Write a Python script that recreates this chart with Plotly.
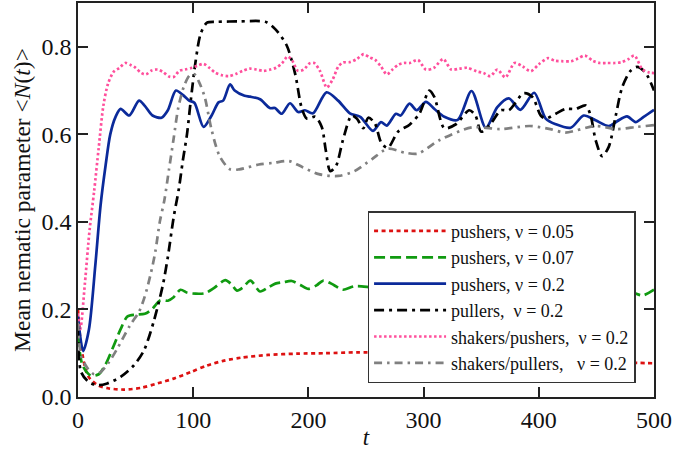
import plotly.graph_objects as go

# ---------------- data ----------------
t_red = [0, 2.7, 8.5, 17, 26, 40, 55, 69, 83, 98, 112, 127, 142, 165, 190, 215, 243, 300, 350, 400, 450, 485, 500]
n_red = [0.20, 0.117, 0.049, 0.027, 0.02, 0.017, 0.021, 0.031, 0.042, 0.057, 0.072, 0.083, 0.09, 0.096, 0.099, 0.10, 0.102, 0.10, 0.095, 0.088, 0.082, 0.078, 0.077]

t_green = [0, 4, 11, 18, 24, 31, 37, 43, 50, 58, 64, 71.5, 78, 83, 89, 95, 102, 110, 117.6, 127.8, 133, 138, 143, 149.7, 158, 165, 171.3, 178, 185.6, 193, 200, 207, 213, 222, 230, 240, 260, 290, 330, 370, 410, 450, 480, 490, 500]
n_green = [0.14, 0.072, 0.049, 0.052, 0.075, 0.117, 0.155, 0.184, 0.188, 0.19, 0.2, 0.221, 0.22, 0.228, 0.245, 0.238, 0.236, 0.237, 0.248, 0.267, 0.258, 0.243, 0.25, 0.266, 0.241, 0.25, 0.259, 0.262, 0.265, 0.256, 0.247, 0.255, 0.266, 0.256, 0.245, 0.253, 0.25, 0.255, 0.25, 0.252, 0.25, 0.245, 0.24, 0.232, 0.245]

t_blue = [0, 4.5, 9.5, 15, 19.6, 24, 28, 32.6, 37, 44.5, 53, 58, 64.7, 72.5, 78, 85, 91, 96.5, 101, 109, 116, 122, 126, 132, 136, 144.6, 149.4, 158, 166.5, 171, 176.8, 184, 191.2, 197, 204, 215.7, 225.8, 236, 245, 256, 263, 268, 276, 280, 287.8, 294, 302, 309.4, 318, 329.6, 341.6, 354, 364, 374, 384, 396, 406, 414.7, 427.7, 439, 449.3, 460.8, 468, 476.6, 484, 491, 500]
n_blue = [0.185, 0.105, 0.154, 0.30, 0.438, 0.53, 0.60, 0.64, 0.658, 0.643, 0.677, 0.665, 0.643, 0.638, 0.655, 0.70, 0.69, 0.677, 0.672, 0.617, 0.643, 0.673, 0.677, 0.714, 0.70, 0.688, 0.686, 0.68, 0.66, 0.66, 0.647, 0.671, 0.651, 0.655, 0.648, 0.696, 0.677, 0.648, 0.64, 0.608, 0.628, 0.62, 0.647, 0.643, 0.67, 0.655, 0.674, 0.658, 0.64, 0.633, 0.699, 0.615, 0.662, 0.682, 0.656, 0.695, 0.636, 0.623, 0.615, 0.643, 0.632, 0.619, 0.63, 0.641, 0.628, 0.64, 0.656]

t_black = [0, 2.7, 9.5, 17, 25.4, 37, 48.4, 57, 62, 66, 70, 74, 78, 83, 87.5, 91, 94.6, 98, 102, 106.5, 112, 121, 140, 162.6, 171, 181, 188.6, 194, 198.6, 206, 211.6, 215, 219, 224, 230, 237.5, 242, 247.6, 252, 257.7, 263.4, 269, 277.8, 287.8, 296.5, 305, 309.4, 318, 328, 339.6, 345, 350, 358.5, 367, 374, 387, 394.5, 401.7, 406, 414.7, 423.3, 432, 440.7, 445, 449.3, 455, 460.8, 466.6, 472.3, 479.6, 485.3, 492.6, 500]
n_black = [0.16, 0.057, 0.034, 0.027, 0.031, 0.046, 0.072, 0.105, 0.14, 0.175, 0.215, 0.26, 0.32, 0.41, 0.475, 0.54, 0.60, 0.68, 0.765, 0.83, 0.855, 0.857, 0.858, 0.857, 0.841, 0.804, 0.737, 0.662, 0.636, 0.64, 0.617, 0.565, 0.516, 0.528, 0.587, 0.643, 0.636, 0.614, 0.638, 0.625, 0.58, 0.569, 0.606, 0.622, 0.648, 0.70, 0.685, 0.614, 0.623, 0.655, 0.643, 0.606, 0.625, 0.655, 0.655, 0.694, 0.685, 0.643, 0.636, 0.647, 0.658, 0.658, 0.666, 0.643, 0.587, 0.55, 0.572, 0.64, 0.707, 0.745, 0.754, 0.741, 0.70]

t_pink = [0, 2, 6, 10, 14, 18, 22, 26, 31, 36, 41, 46, 50, 55, 59, 64, 69, 74, 79, 83, 88, 93, 99, 104, 109, 114, 119, 125, 131, 137, 143, 149, 155, 161, 167, 172, 177, 182, 186, 191, 196, 201, 205, 210, 216, 221, 226, 230, 236, 242, 248, 253, 258, 263, 268, 273, 278, 283, 288, 295, 302, 309, 317, 324, 331, 338, 346, 352, 358, 364, 371, 379, 386, 393, 400, 408, 414, 420, 428, 434, 440, 447, 453, 459, 466, 472, 478, 483, 490, 496, 500]
n_pink = [0.19, 0.155, 0.26, 0.38, 0.47, 0.57, 0.665, 0.715, 0.743, 0.752, 0.763, 0.758, 0.752, 0.74, 0.737, 0.746, 0.748, 0.742, 0.732, 0.731, 0.745, 0.748, 0.752, 0.757, 0.761, 0.752, 0.741, 0.735, 0.733, 0.738, 0.745, 0.75, 0.748, 0.745, 0.748, 0.752, 0.762, 0.778, 0.768, 0.745, 0.748, 0.762, 0.763, 0.745, 0.707, 0.725, 0.755, 0.764, 0.765, 0.772, 0.783, 0.776, 0.77, 0.755, 0.737, 0.748, 0.759, 0.763, 0.763, 0.77, 0.748, 0.752, 0.772, 0.748, 0.75, 0.752, 0.744, 0.74, 0.733, 0.748, 0.73, 0.763, 0.755, 0.744, 0.76, 0.774, 0.768, 0.767, 0.767, 0.773, 0.78, 0.768, 0.763, 0.763, 0.763, 0.765, 0.772, 0.78, 0.748, 0.741, 0.74]

t_gray = [0, 2.7, 8.5, 14, 19.6, 27, 34, 45, 53, 58, 63, 67, 71, 75, 79, 83, 87, 92, 97, 101, 105, 110, 116, 123, 132, 140, 157, 170, 183, 195, 209, 226, 240, 255, 269, 284, 295, 314, 342, 367, 392, 410, 423, 449, 468, 485, 500]
n_gray = [0.17, 0.094, 0.065, 0.052, 0.057, 0.08, 0.11, 0.163, 0.195, 0.23, 0.28, 0.33, 0.40, 0.45, 0.52, 0.59, 0.66, 0.71, 0.735, 0.737, 0.72, 0.685, 0.61, 0.55, 0.52, 0.52, 0.531, 0.535, 0.539, 0.525, 0.509, 0.505, 0.516, 0.543, 0.567, 0.558, 0.556, 0.587, 0.616, 0.612, 0.619, 0.612, 0.604, 0.619, 0.612, 0.617, 0.621]

series_names = [
    "pushers, \u03bd = 0.05",
    "pushers, \u03bd = 0.07",
    "pushers, \u03bd = 0.2",
    "pullers,\u00a0 \u03bd = 0.2",
    "shakers/pushers,\u00a0 \u03bd = 0.2",
    "shakers/pullers,\u00a0\u00a0 \u03bd = 0.2",
]
x_ticks = [0, 100, 200, 300, 400, 500]
y_ticks = [0.0, 0.2, 0.4, 0.6, 0.8]

# ---------------- styles ----------------
series = [
    (t_red, n_red, dict(color="#dd1111", width=2.7, dash="4px,3.5px")),
    (t_green, n_green, dict(color="#109a10", width=2.7, dash="11px,5px")),
    (t_blue, n_blue, dict(color="#0b2a9a", width=2.7, dash="solid")),
    (t_black, n_black, dict(color="#000000", width=2.7, dash="10px,5px,3px,5px")),
    (t_pink, n_pink, dict(color="#ff4f9c", width=2.7, dash="2.5px,2.5px")),
    (t_gray, n_gray, dict(color="#808080", width=2.7, dash="8px,5px,2.5px,5px")),
]

for tx, ny, _ in series:
    assert len(tx) == len(ny), (len(tx), len(ny))

FONT = "Liberation Serif"
fig = go.Figure()
for (tx, ny, ln), name in zip(series, series_names):
    fig.add_trace(go.Scatter(x=tx, y=ny, mode="lines", name=name,
                             line=dict(shape="spline", smoothing=0.8, **ln)))

axis_common = dict(showline=True, linecolor="#222222", linewidth=1.6, mirror="allticks",
                   ticks="inside", ticklen=10, tickwidth=1.6, tickcolor="#222222",
                   showgrid=False, zeroline=False,
                   tickfont=dict(family=FONT, size=24, color="#111111"))

fig.update_layout(
    width=673, height=450,
    margin=dict(l=78, r=18, t=1, b=48),
    paper_bgcolor="white", plot_bgcolor="white",
    font=dict(family=FONT, size=20, color="#111111"),
    showlegend=True,
    legend=dict(x=0.968, y=0.035, xanchor="right", yanchor="bottom",
                bgcolor="white", bordercolor="#333333", borderwidth=1.5,
                font=dict(family=FONT, size=18, color="#111111"),
                itemwidth=72, tracegroupgap=0),
    xaxis=dict(range=[0, 500], tickvals=x_ticks, ticktext=[str(v) for v in x_ticks],
               title=dict(text="<i>t</i>", font=dict(family=FONT, size=23), standoff=0),
               **axis_common),
    yaxis=dict(range=[0, 0.9], tickvals=y_ticks, ticktext=[f"{v:.1f}" for v in y_ticks],
               title=dict(text="Mean nematic parameter &lt;<i>N</i>(<i>t</i>)&gt;",
                          font=dict(family=FONT, size=23.5), standoff=4),
               **axis_common),
)

fig.write_html("out.html")
